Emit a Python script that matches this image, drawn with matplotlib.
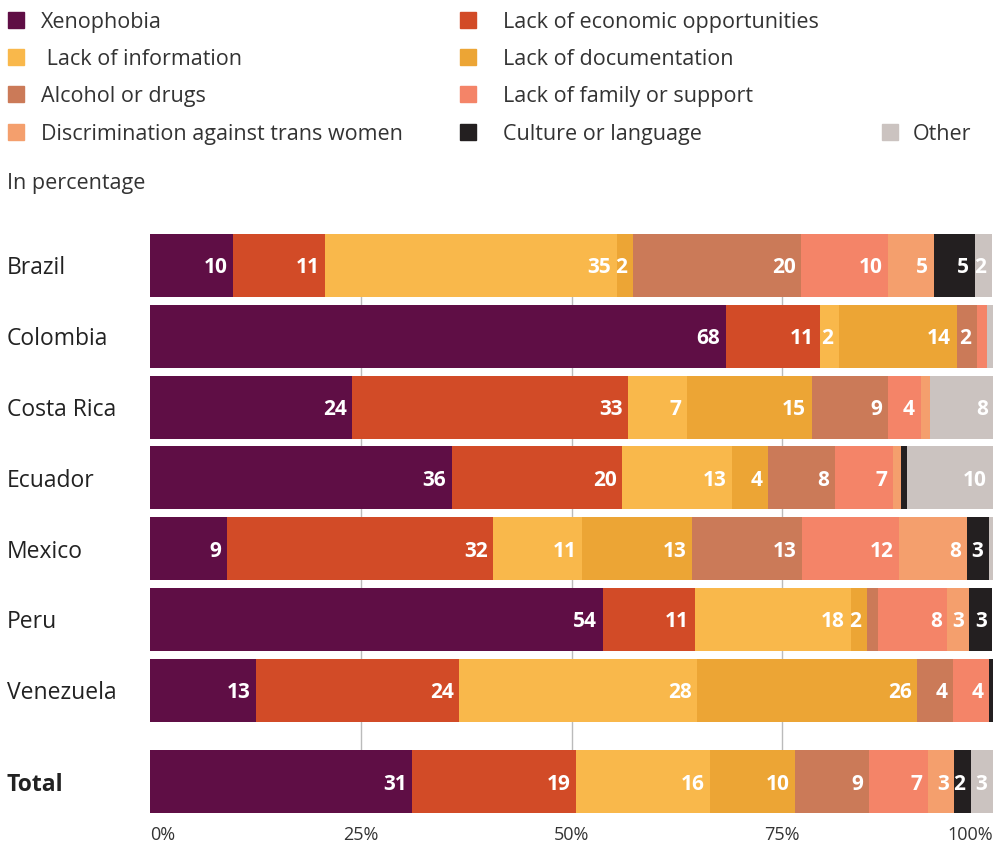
import numpy as np
import matplotlib.pyplot as plt
from matplotlib.patches import Rectangle

plt.rcParams['font.family'] = ['Open Sans', 'DejaVu Sans']

countries = ['Brazil', 'Colombia', 'Costa Rica', 'Ecuador', 'Mexico', 'Peru', 'Venezuela', 'Total']
causes = ['Xenophobia', 'Lack of economic opportunities', ' Lack of information', 'Lack of documentation',
          'Alcohol or drugs', 'Lack of family or support', 'Discrimination against trans women',
          'Culture or language', 'Other']
colors = ['#5f0e45', '#d24b27', '#f9b84b', '#eca535', '#cb7a58', '#f48468', '#f49f6d', '#231f20', '#cbc3c0']

# shares per country, in the cause order above
xenophobia = [9.85, 68.3, 24.0, 35.8, 9.1, 53.7, 12.6, 31.1]
economic = [10.9, 11.15, 32.7, 20.2, 31.6, 10.9, 24.1, 19.4]
information = [34.6, 2.25, 7.0, 13.0, 10.6, 18.5, 28.2, 15.9]
documentation = [1.9, 14.0, 14.8, 4.3, 13.0, 1.9, 26.1, 10.1]
alcohol = [20.0, 2.4, 9.0, 7.9, 13.0, 1.3, 4.3, 8.8]
family = [10.3, 1.2, 3.9, 6.9, 11.6, 8.3, 4.2, 7.0]
trans = [5.4, 0.0, 1.1, 0.95, 8.0, 2.6, 0.0, 3.1]
culture = [4.9, 0.0, 0.0, 0.8, 2.6, 2.7, 0.6, 2.0]
other = [2.0, 0.7, 7.6, 10.1, 0.5, 0.0, 0.0, 2.6]

series = [xenophobia, economic, information, documentation, alcohol, family, trans, culture, other]

fig = plt.figure(figsize=(9.93, 8.43), dpi=100)
W, H = 993, 843
ax = fig.add_axes([150 / W, 30 / H, 843 / W, 579 / H])

ypos = np.array([0, 1, 2, 3, 4, 5, 6, 7.29])
bh = 0.89
left = np.zeros(len(countries))
for vals, col in zip(series, colors):
    vals = np.array(vals)
    ax.barh(ypos, vals, left=left, height=bh, color=col, linewidth=0, zorder=2)
    for y, l, v in zip(ypos, left, vals):
        if v >= 1.5:
            ax.annotate(str(int(round(v))), (l + v, y), xytext=(-4, 0), textcoords='offset points',
                        ha='right', va='center_baseline', color='white', fontsize=15, fontweight='bold',
                        zorder=3, annotation_clip=False)
    left += vals

ax.set_xlim(0, 100)
ax.set_ylim(7.29 + bh / 2, -bh / 2)
for x in [25, 50, 75]:
    ax.axvline(x, color='#bbbbbb', linewidth=1, zorder=1)
for s in ax.spines.values():
    s.set_visible(False)
ax.set_yticks([])
ax.set_xticks([0, 25, 50, 75, 100])
ax.set_xticklabels(['0%', '25%', '50%', '75%', '100%'], fontsize=13, color='#333333')
ax.tick_params(axis='x', length=0, pad=9)
tl = ax.get_xticklabels()
tl[0].set_ha('left')
tl[-1].set_ha('right')

for y, name in zip(ypos, countries):
    ax.text(-143 / 843 * 100, y, name, ha='left', va='center_baseline', fontsize=16.5, color='#222222',
            fontweight='bold' if name == 'Total' else 'normal')

# legend drawn by hand
sq_pos = [(8, 20), (460, 20), (8, 57), (460, 57), (8, 94), (460, 94), (8, 132), (460, 132), (882, 132)]
txt_x = [41, 503, 41, 503, 41, 503, 41, 503, 913]
for (x, y), tx, name, col in zip(sq_pos, txt_x, causes, colors):
    fig.patches.append(Rectangle((x / W, 1 - (y + 8) / H), 16 / W, 16 / H, color=col,
                                 transform=fig.transFigure, figure=fig))
    fig.text(tx / W, 1 - y / H, name, ha='left', va='center_baseline', fontsize=15.5, color='#333333')

fig.text(7 / W, 1 - 181 / H, 'In percentage', ha='left', va='center_baseline', fontsize=15.5, color='#333333')

fig.savefig('out.png', dpi=100)
